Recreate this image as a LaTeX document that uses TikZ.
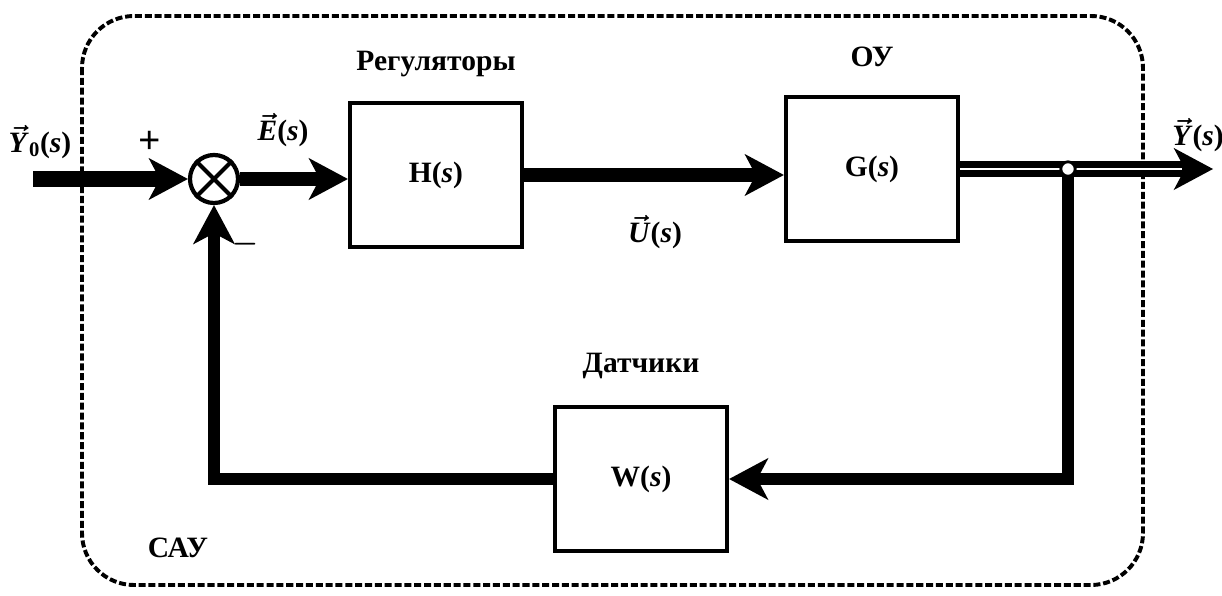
\documentclass[tikz,border=0pt]{standalone}
\usepackage{fontspec}
\setmainfont{Liberation Serif}
\usetikzlibrary{arrows.meta,positioning}

\begin{document}
\begin{tikzpicture}
  [x=0.025cm, y=-0.025cm,
   every node/.style={font=\fontsize{21}{25}\selectfont\bfseries\boldmath, inner sep=0pt},
   block/.style={draw, line width=3pt, minimum width=4.3cm, minimum height=3.6cm},
   sum/.style={draw, circle, line width=3pt, minimum size=1.2cm},
   junc/.style={draw, circle, fill=white, line width=2pt, minimum size=0.36cm},
   sig/.style={line width=10pt, -{Stealth[length=28pt, width=30pt, inset=8pt, line width=0pt]}}]
  \useasboundingbox (0,0) rectangle (1222,596);
  \draw[line width=2.8pt, dash pattern=on 5pt off 2pt, rounded corners=1.3cm] (82,16) rectangle (1143,585);

  \node[sum] (sum) at (214,179) {};
  \draw[line width=3pt] (sum.north west) -- (sum.south east) (sum.north east) -- (sum.south west);
  \node[block] (H) at (436,175) {H(\textit{s})};
  \node[block] (G) at (872,169) {G(\textit{s})};
  \node[block] (W) at (641,479) {W(\textit{s})};
  \node[above=0.6cm of H] (reglbl) {Регуляторы};
  \node[above=0.7cm of G] (oulbl) {ОУ};
  \node[above=0.65cm of W] (senslbl) {Датчики};
  \coordinate (yin) at (33,179);
  \coordinate (yout) at (1213,169);
  \coordinate (tap) at (1068,169);

  \draw[sig, line width=12pt] (yin) -- (sum.west);
  \draw[sig] (sum.east) -- (H.west |- sum.east);
  \draw[sig] (H.east) -- (H.east -| G.west);
  \draw[sig, line width=11pt] (G.east) -- (yout);
  \draw[white, line width=1.6pt] (G.east) -- ([xshift=-22pt]yout);
  \draw[sig, line width=9pt] (tap) |- (W.east);
  \draw[sig, line width=9pt] (W.west) -| (sum.south);
  \node[junc] (j) at (tap) {};

  \node (y0lbl) at (40,142) {$\vec{\textbf{\textit{Y}}}$\textsubscript{0}(\textit{s})};
  \node[font=\fontsize{28}{30}\selectfont\bfseries] (plus) at (150,142) {+};
  \node (minus) at (246,244) {$-$};
  \node (elbl) at (283,130) {$\vec{\textbf{\textit{E}}}$(\textit{s})};
  \node (ulbl) at (655,232) {$\vec{\textbf{\textit{U}}}$(\textit{s})};
  \node (ylbl) at (1198,135) {$\vec{\textbf{\textit{Y}}}$(\textit{s})};
  \node (saulbl) at (178,548) {САУ};
\end{tikzpicture}
\end{document}
